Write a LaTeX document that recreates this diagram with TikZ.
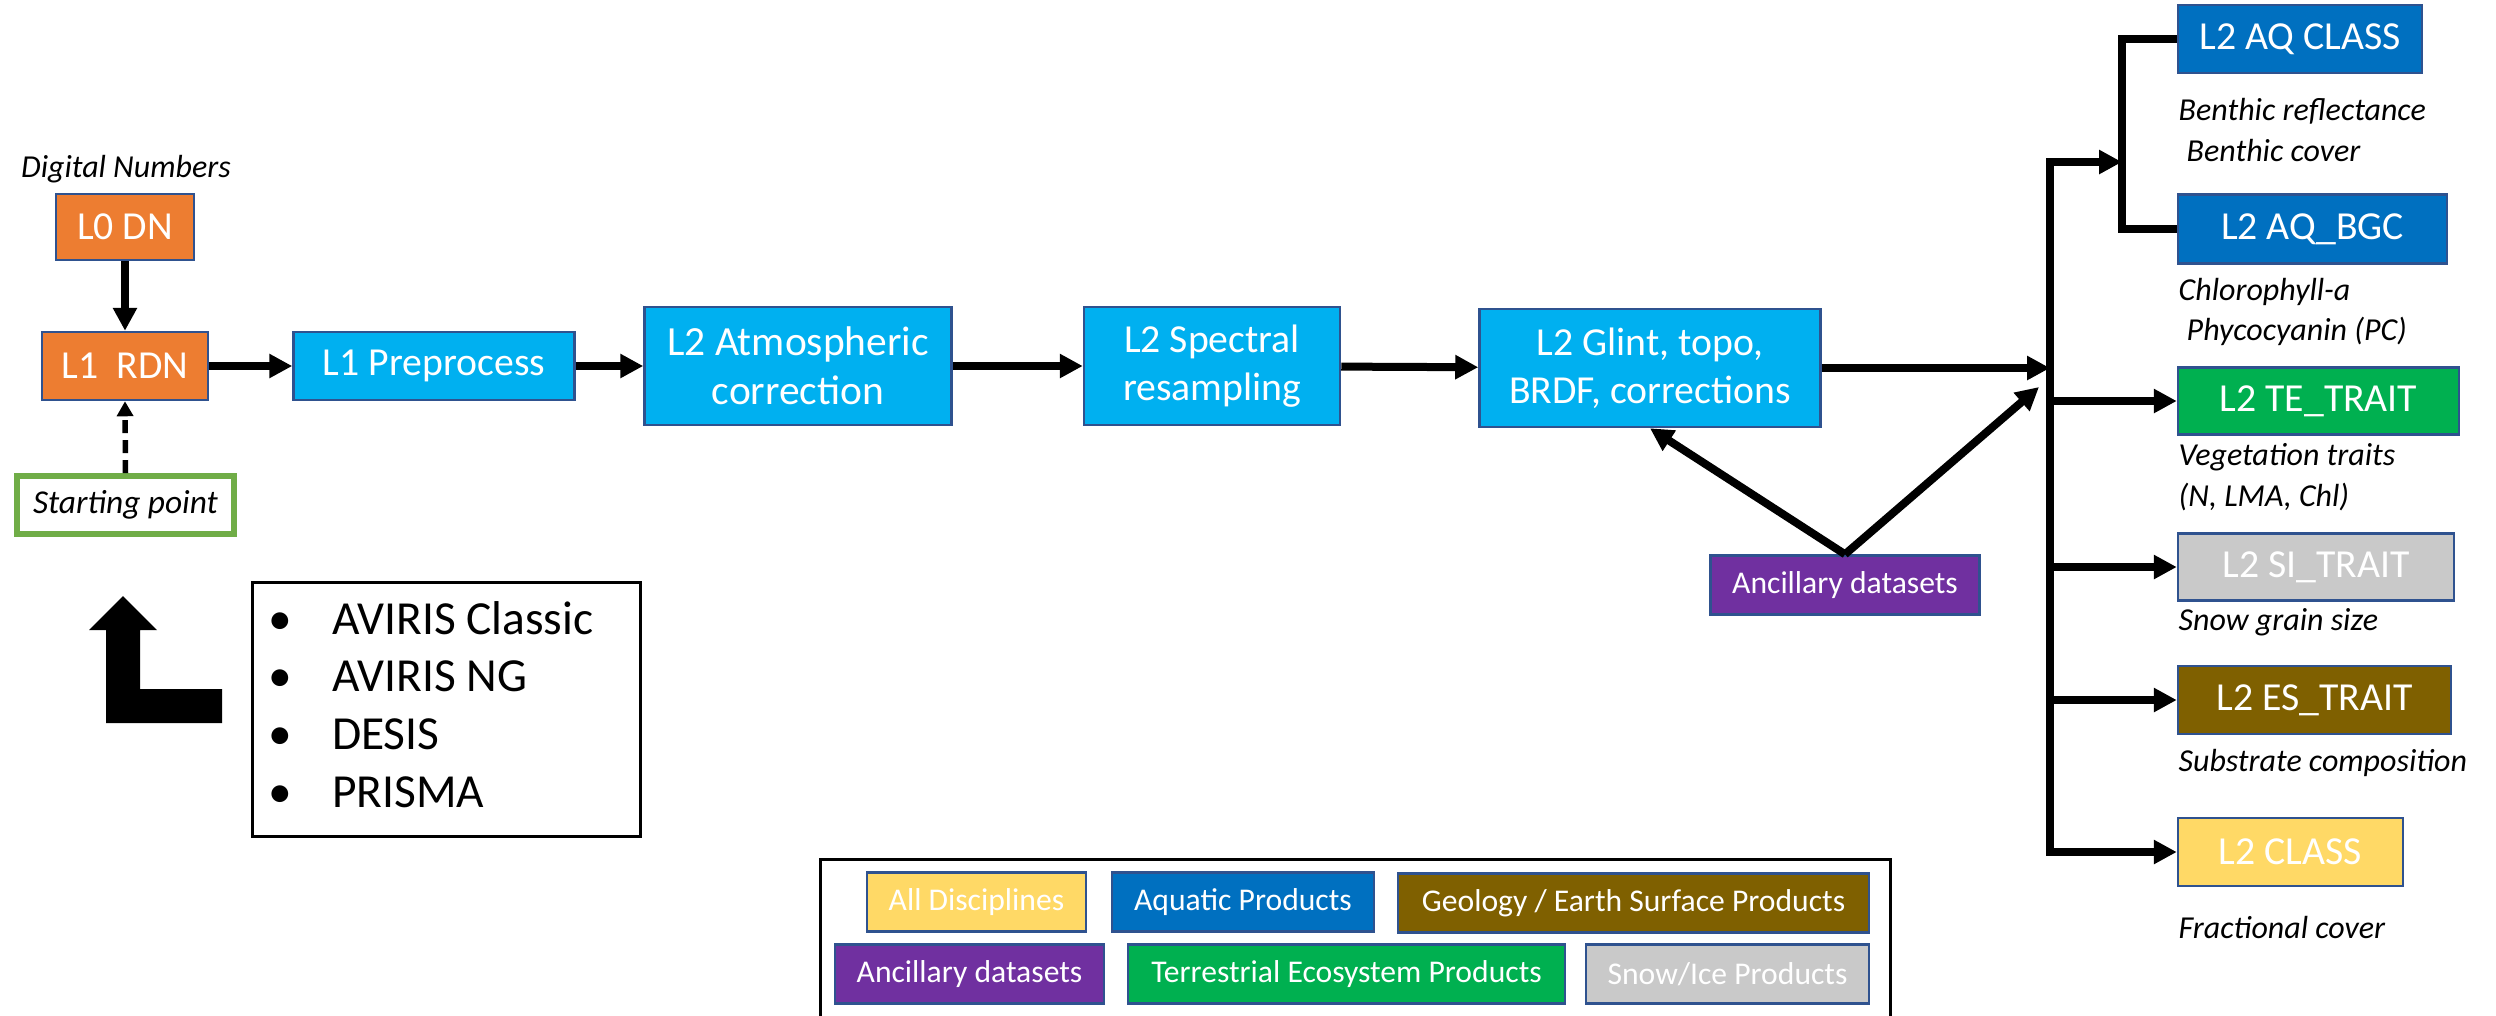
\documentclass[tikz,border=0pt]{standalone}
\usepackage{fontspec}
\setmainfont{Carlito}
\usetikzlibrary{arrows.meta}

\definecolor{lvlorange}{HTML}{ED7D31}
\definecolor{lvlcyan}{HTML}{00B0F0}
\definecolor{aqblue}{HTML}{0070C0}
\definecolor{tegreen}{HTML}{00B050}
\definecolor{sigrey}{HTML}{C9C9C9}
\definecolor{esbrown}{HTML}{7F6000}
\definecolor{allyellow}{HTML}{FFD966}
\definecolor{ancpurple}{HTML}{7030A0}
\definecolor{boxline}{HTML}{2F528F}
\definecolor{startgreen}{HTML}{70AD47}

\begin{document}
\begin{tikzpicture}

% Canvas of the whole figure
\useasboundingbox (0,0) rectangle (24.96,-10.15);

% Define styles for boxes, notes and arrows
\tikzstyle{box} = [rectangle, draw=boxline, line width=0.25mm, text=white, align=center, inner sep=0pt, font=\fontsize{11.3}{13.7}\selectfont]
\tikzstyle{key} = [box, minimum height=0.59cm, font=\fontsize{9}{11}\selectfont]
\tikzstyle{note} = [inner sep=0pt, align=left, font=\fontsize{9.1}{11.6}\selectfont\itshape]
\tikzstyle{flow} = [line width=0.8mm, -{Triangle[length=2.3mm,width=2.3mm]}]
\tikzstyle{dashflow} = [line width=0.55mm, dash pattern=on 1.3mm off 0.7mm, -{Triangle[length=1.5mm,width=1.6mm]}]

% Processing chain
\node[note] (dignum) at (1.26,-1.69) {Digital Numbers};
\node[box, fill=lvlorange, minimum width=1.38cm, minimum height=0.66cm] (l0dn) at (1.25,-2.27) {L0 DN};
\node[box, fill=lvlorange, minimum width=1.66cm, minimum height=0.68cm] (l1rdn) at (1.25,-3.66) {L1~~RDN};
\node[box, fill=lvlcyan, minimum width=2.81cm, minimum height=0.68cm] (prep) at (4.34,-3.66) {L1 Preprocess};
\node[box, fill=lvlcyan, minimum width=3.07cm, minimum height=1.18cm, font=\fontsize{11.8}{14}\selectfont] (atmo) at (7.98,-3.66) {L2 Atmospheric\\correction};
\node[box, fill=lvlcyan, minimum width=2.56cm, minimum height=1.18cm] (spec) at (12.12,-3.66) {L2 Spectral\\resampling};
\node[box, fill=lvlcyan, minimum width=3.41cm, minimum height=1.18cm] (glint) at (16.50,-3.68) {L2 Glint, topo,\\BRDF, corrections};

\node[draw=startgreen, line width=0.6mm, minimum width=2.17cm, minimum height=0.58cm, inner sep=0pt, font=\fontsize{9.5}{11}\selectfont\itshape] (start) at (1.255,-5.05) {Starting point};
\node[key, fill=ancpurple, minimum width=2.69cm] (anc) at (18.45,-5.85) {Ancillary datasets};

\draw[flow] (l0dn) -- (l1rdn);
\draw[dashflow] (start.north) -- (l1rdn.south);
\draw[flow] (l1rdn) -- (prep);
\draw[flow] (prep) -- (atmo);
\draw[flow] (atmo) -- (spec);
\draw[flow] (spec) -- (glint);

% Products
\node[box, fill=aqblue, minimum width=2.44cm, minimum height=0.68cm] (aqcls) at (23.00,-0.39) {L2 AQ CLASS};
\node[box, fill=aqblue, minimum width=2.69cm, minimum height=0.69cm] (aqbgc) at (23.125,-2.29) {L2 AQ\_BGC};
\node[box, fill=tegreen, minimum width=2.81cm, minimum height=0.67cm] (tetrait) at (23.185,-4.01) {L2 TE\_TRAIT};
\node[box, fill=sigrey, minimum width=2.76cm, minimum height=0.67cm] (sitrait) at (23.16,-5.67) {L2 SI\_TRAIT};
\node[box, fill=esbrown, minimum width=2.73cm, minimum height=0.68cm] (estrait) at (23.145,-7.00) {L2 ES\_TRAIT};
\node[box, fill=allyellow, minimum width=2.25cm, minimum height=0.68cm] (l2class) at (22.905,-8.52) {L2 CLASS};

\node[note, anchor=west] (benthic) at (21.78,-1.30) {Benthic reflectance\\\hspace*{0.8mm}Benthic cover};
\node[note, anchor=west] (chla) at (21.78,-3.12) {Chlorophyll-a\\\hspace*{0.8mm}Phycocyanin (PC)};
\node[note, anchor=west] (vegtr) at (21.78,-4.77) {Vegetation traits\\(N, LMA, Chl)};
\node[note, anchor=west] (snow) at (21.78,-6.22) {Snow grain size};
\node[note, anchor=west] (subst) at (21.78,-7.63) {Substrate composition};
\node[note, anchor=west] (fract) at (21.78,-9.27) {Fractional cover};

% Bus to the products
\coordinate (bustop) at (20.50,-1.62);
\coordinate (aqjoin) at (21.22,-1.62);
\coordinate (ancin) at (20.39,-3.87);

\draw[flow] (glint.east) -- (glint.east -| bustop);
\draw[flow] (anc.north) -- (glint.south);
\draw[flow] (anc.north) -- (ancin);
\draw[line width=0.8mm, {Triangle[length=2.3mm,width=2.3mm]}-{Triangle[length=2.3mm,width=2.3mm]}] (aqjoin) -- (bustop) |- (l2class.west);
\draw[line width=0.8mm] (aqcls.west) -| (aqjoin) |- (aqbgc.west);
\foreach \n in {tetrait,sitrait,estrait}
	\draw[flow] (\n.west -| bustop) -- (\n.west);

% Sensors
\fill (1.23,-5.96) -- (1.57,-6.30) -- (1.40,-6.30) -- (1.40,-6.89) -- (2.22,-6.89) -- (2.22,-7.23) -- (1.06,-7.23) -- (1.06,-6.30) -- (0.89,-6.30) -- cycle;
\node[draw, line width=0.3mm, minimum width=3.88cm, minimum height=2.54cm, inner sep=0pt, font=\fontsize{13.5}{16.4}\selectfont] (sensors) at (4.46,-7.09)
	{\begin{tabular}{@{}l@{\hspace{4mm}}l@{\hspace{3mm}}}
	\textbullet & AVIRIS Classic\\
	\textbullet & AVIRIS NG\\
	\textbullet & DESIS\\
	\textbullet & PRISMA
	\end{tabular}};

% Legend
\draw[line width=0.3mm] (8.20,-10.30) |- (18.90,-8.59) -- (18.90,-10.30);
\node[key, fill=allyellow, minimum width=2.19cm] (kall) at (9.765,-9.02) {All Disciplines};
\node[key, fill=aqblue, minimum width=2.62cm] (kaq) at (12.43,-9.02) {Aquatic Products};
\node[key, fill=esbrown, minimum width=4.71cm] (kes) at (16.335,-9.03) {Geology / Earth Surface Products};
\node[key, fill=ancpurple, minimum width=2.69cm] (kanc) at (9.695,-9.74) {Ancillary datasets};
\node[key, fill=tegreen, minimum width=4.37cm] (kte) at (13.465,-9.74) {Terrestrial Ecosystem Products};
\node[key, fill=sigrey, minimum width=2.83cm] (ksi) at (17.275,-9.74) {Snow/Ice Products};

\end{tikzpicture}
\end{document}
